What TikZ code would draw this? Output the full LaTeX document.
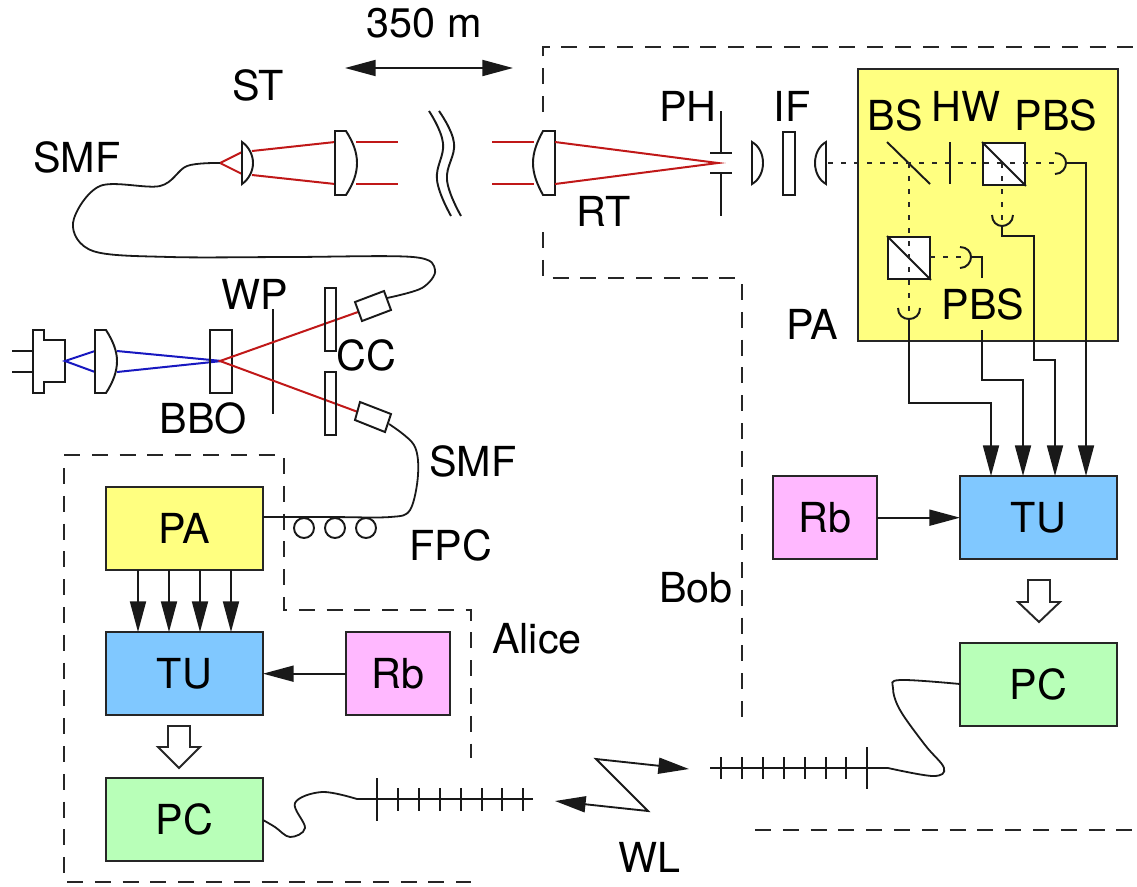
\documentclass[tikz,border=0pt]{standalone}
\usepackage{fontspec}
\setmainfont{TeX Gyre Heros}
\usetikzlibrary{arrows.meta}
\definecolor{cyel}{HTML}{FFFF80}
\definecolor{cblu}{HTML}{80C8FF}
\definecolor{cpnk}{HTML}{FFB8FF}
\definecolor{cgrn}{HTML}{B8FFB8}
\definecolor{cred}{HTML}{C01818}
\definecolor{cbl}{HTML}{1818C0}
\tikzset{
  >={Triangle[length=23pt,width=12pt]},
  ln/.style={line width=1.45pt,black!90,line join=miter},
  thin line/.style={line width=1.4pt,black!90},
  redray/.style={line width=1.5pt,cred},
  blueray/.style={line width=1.5pt,cbl},
  fibre/.style={line width=1.35pt,black!90},
  dashb/.style={line width=1.4pt,black!85,dash pattern=on 12pt off 8.85pt},
  dotl/.style={line width=1.4pt,black!85,dash pattern=on 3.75pt off 6pt},
  box/.style={draw=black!85,line width=1.6pt,inner sep=0pt,outer sep=0pt,minimum width=117.75pt,minimum height=62.5pt,anchor=north west,font=\lab},
  rbbox/.style={box,minimum width=78pt},
  lbl/.style={anchor=base,inner sep=0pt,font=\lab},
  pbsq/.style={draw=black!90,line width=1.45pt,fill=white,inner sep=0pt,minimum size=31.5pt,anchor=north west},
  blockarrow/.style={draw=black!85,line width=1.45pt,fill=white,line join=miter},
}
\newcommand{\lab}{\fontsize{31}{32}\selectfont}
\begin{document}
\begin{tikzpicture}[x=0.75pt,y=-0.75pt]
\useasboundingbox (0,0) rectangle (1137,886);
% dashed enclosures
\draw[dashb] (64,455) -- (275,455);
\draw[dashb] (284,458) -- (284,610) -- (471,610) -- (471,758);
\draw[dashb] (64,468) -- (64,882) -- (471,882);
\draw[dashb] (543,112) -- (543,47) -- (1137,47);
\draw[dashb] (543,232) -- (543,278) -- (737,278);
\draw[dashb] (742,284) -- (742,717);
\draw[dashb] (755,830) -- (1137,830);
% boxes
\node[box,fill=cyel,minimum width=195pt,minimum height=204pt] (rpa) at (858,69) {};
\node[box,fill=cblu] (rtu) at (960,476) {TU};
\node[rbbox,fill=cpnk] (rrb) at (773,476) {Rb};
\node[box,fill=cgrn] (rpc) at (960,643) {PC};
\node[box,fill=cyel] (lpa) at (106,487) {PA};
\node[box,fill=cblu] (ltu) at (106,632) {TU};
\node[rbbox,fill=cpnk] (lrb) at (346,632) {Rb};
\node[box,fill=cgrn] (lpc) at (106,778) {PC};
% labels
\node[lbl] (t350) at (424,37) {350 m};
\node[lbl] (tst) at (258,100) {ST};
\node[lbl] (tsmf) at (77,172) {SMF};
\node[lbl] (tph) at (688,121) {PH};
\node[lbl] (tif) at (792,121) {IF};
\node[lbl] (tbs) at (895,130) {BS};
\node[lbl] (thw) at (966,121) {HW};
\node[lbl] (tpbs) at (1056,130) {PBS};
\node[lbl] (tpbsb) at (983,319) {PBS};
\node[lbl] (tpa) at (812,339) {PA};
\node[lbl] (trt) at (604,226) {RT};
\node[lbl] (twp) at (255,309) {WP};
\node[lbl] (tcc) at (366,370) {CC};
\node[lbl] (tbbo) at (203,433) {BBO};
\node[lbl] (tsmfb) at (473,476) {SMF};
\node[lbl] (tfpc) at (451,560) {FPC};
\node[lbl] (talice) at (537,653) {Alice};
\node[lbl] (tbob) at (696,602) {Bob};
\node[lbl] (twl) at (649,872) {WL};
% 350 m arrow
\coordinate (dl) at (345,68); \coordinate (dr) at (513,68);
\draw[thin line,<->] (dl) -- (dr);
% pump laser
\draw[ln] (33,330) -- (44,330) -- (44,340) -- (65,340) -- (65,382) -- (44,382) -- (44,393) -- (33,393) -- cycle;
\draw[thin line] (12,351) -- (33,351) (12,372) -- (33,372);
\draw[blueray] (95,351) -- (65,361) -- (95,372);
\draw[ln] (95,330) -- (106,330) .. controls (113,341) and (117,351) .. (117,361) .. controls (117,372) and (113,382) .. (106,393) -- (95,393) -- cycle;
\draw[blueray] (117,351) -- (222,361) -- (117,372);
\draw[ln] (210,330) rectangle (232,393);
\draw[ln] (273,309) -- (273,414);
\draw[redray] (358,312) -- (220,361) -- (358,412);
\draw[ln] (325,288) rectangle (336,351);
\draw[ln] (325,372) rectangle (336,435);
\draw[ln] (355,302) -- (384,291) -- (391,310) -- (362,321) -- cycle;
\draw[ln] (355,420) -- (360,402) -- (391,414) -- (385,432) -- cycle;
% sender telescope
\draw[redray] (252,151) -- (335,142) (252,175) -- (335,184);
\draw[redray] (242,152) -- (220,163) -- (242,174);
\draw[ln] (242,142) .. controls (249,147) and (253,155) .. (253,163) .. controls (253,171) and (249,179) .. (242,184) -- cycle;
\draw[ln] (335,131) -- (346,131) .. controls (353,142) and (357,152) .. (357,163) .. controls (357,174) and (353,184) .. (346,195) -- (335,195) -- cycle;
\draw[redray] (356,142) -- (398,142) (356,184) -- (398,184);
% break
\draw[ln] plot[smooth,tension=0.7] coordinates {(429,111) (443,143) (437,180) (451,216)};
\draw[ln] plot[smooth,tension=0.7] coordinates {(439,111) (454,143) (447,180) (461,216)};
% receiver telescope
\draw[redray] (492,142) -- (534,142) (492,184) -- (534,184);
\draw[ln] (555,131) -- (543,131) .. controls (537,142) and (533,152) .. (533,163) .. controls (533,174) and (537,184) .. (543,195) -- (555,195) -- cycle;
\draw[redray] (555,142) -- (718,163) -- (555,184);
\draw[ln] (721,111) -- (721,153) (710,153) -- (732,153) (710,173) -- (732,173) (721,173) -- (721,216);
\draw[ln] (752,142) .. controls (759,146) and (763,154) .. (763,163) .. controls (763,172) and (759,180) .. (752,184) -- cycle;
\draw[ln] (783,132) rectangle (795,195);
\draw[ln] (826,142) .. controls (819,146) and (815,154) .. (815,163) .. controls (815,172) and (819,180) .. (826,184) -- cycle;
% analyser
\node[pbsq] (pbsa) at (982,142) {};
\node[pbsq] (pbsb) at (887,236) {};
\draw[ln] (pbsa.north west) -- (pbsa.south east);
\draw[ln] (pbsb.north west) -- (pbsb.south east);
\draw[ln] (887,142) -- (930,184);
\draw[ln] (950,142) -- (950,184);
\draw[dotl] (828,163) -- (1058,163);
\draw[dotl] (909,163) -- (909,318);
\draw[dotl] (1002,163) -- (1002,222);
\draw[dotl] (930,257) -- (968,257);
% detectors
\draw[ln] (1055,153) .. controls (1062,153) and (1066,158) .. (1066,163) .. controls (1066,168) and (1062,174) .. (1055,174);
\draw[ln] (992,215) .. controls (992,222) and (997,226) .. (1002,226) .. controls (1007,226) and (1013,222) .. (1013,215);
\draw[ln] (960,247) .. controls (967,247) and (971,252) .. (971,257) .. controls (971,262) and (967,268) .. (960,268);
\draw[ln] (898,308) .. controls (898,315) and (903,319) .. (909,319) .. controls (915,319) and (920,315) .. (920,308);
% detector leads
\coordinate (da) at (1066,163); \coordinate (db) at (1002,226);
\coordinate (dc) at (971,257); \coordinate (dd) at (909,319);
\coordinate (dc2) at (982,330);
\draw[thin line,->] (da) -- (1086,163) -- (1086,476);
\draw[thin line,->] (db) -- (1002,236) -- (1034,236) -- (1034,360) -- (1055,360) -- (1055,476);
\draw[thin line] (dc) -- (982,257) -- (982,278);
\draw[thin line,->] (dc2) -- (982,380) -- (1023,380) -- (1023,476);
\draw[thin line,->] (dd) -- (909,403) -- (991,403) -- (991,476);
% box to box
\draw[thin line,->] (rrb) -- (rtu);
\draw[thin line,->] (lrb) -- (ltu);
\foreach \i/\x in {1/138,2/169,3/200,4/231}{
  \coordinate (a\i) at (\x,600);
  \draw[thin line,->] (lpa.south -| a\i) -- (ltu.north -| a\i);
}
% block arrows
\draw[blockarrow] (1028,580) -- (1050,580) -- (1050,602) -- (1060,602) -- (1039,622) -- (1018,602) -- (1028,602) -- cycle;
\draw[blockarrow] (168,726) -- (190,726) -- (190,747) -- (200,747) -- (179,768) -- (158,747) -- (168,747) -- cycle;
% fibres
\coordinate (fa) at (387,298); \coordinate (fb) at (220,163);
\draw[fibre] plot[smooth,tension=0.55] coordinates {(fa) (422,288) (435,270) (413,257) (290,257) (170,257) (93,251) (73,223) (100,186) (160,186) (187,166) (fb)};
\coordinate (fc) at (389,424); \coordinate (fd) at (263,517);
\draw[fibre] plot[smooth,tension=0.55] coordinates {(fc) (414,445) (418,475) (410,510) (390,517) (330,517) (fd)};
\foreach \i/\x in {1/304,2/335,3/366}{\draw[ln] (\x,528) circle[radius=7.5pt];}
% left antenna
\coordinate (pl) at (263,820); \coordinate (al) at (357,799); \coordinate (alb) at (533,799);
\draw[fibre] plot[smooth,tension=0.6] coordinates {(pl) (275,827) (290,837) (305,828) (295,803) (322,792) (al)};
\draw[thin line] (al) -- (alb);
\draw[thin line] (377,778) -- (377,821);
\foreach \x in {398,419,440,461,482,502,523}{\draw[thin line] (\x,788) -- (\x,811);}
% right antenna
\coordinate (pr) at (960,684); \coordinate (ar) at (888,768); \coordinate (arb) at (710,768);
\draw[fibre] plot[smooth,tension=0.6] coordinates {(ar) (933,776) (944,768) (925,745) (900,710) (893,688) (900,680) (pr)};
\draw[thin line] (ar) -- (arb);
\draw[thin line] (867,747) -- (867,789);
\foreach \x in {721,742,763,784,805,826,846}{\draw[thin line] (\x,757) -- (\x,779);}
% wireless link
\coordinate (wa) at (689,769); \coordinate (wb) at (555,801);
\draw[thin line,<->,line join=miter] (wb) -- (648,811) -- (596,759) -- (wa);
\end{tikzpicture}
\end{document}
